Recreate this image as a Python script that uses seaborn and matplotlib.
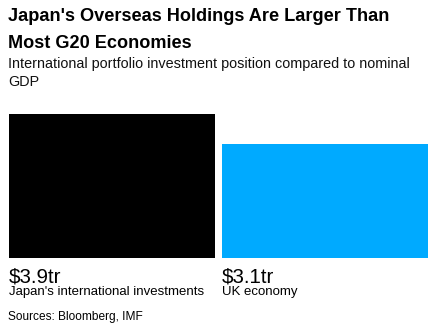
import matplotlib
matplotlib.use("Agg")
import matplotlib.pyplot as plt
import seaborn as sns
import pandas as pd
from matplotlib.transforms import blended_transform_factory

# Values in trillions of US dollars
categories = ["Japan's international investments", "UK economy"]
values_tr = [3.9, 3.1]
bar_colors = ["#000000", "#00AAFF"]

title_lines = ["Japan's Overseas Holdings Are Larger Than", "Most G20 Economies"]
subtitle_lines = ["International portfolio investment position compared to nominal", "GDP"]
source = "Sources: Bloomberg, IMF"

sns.set_theme(style="white")
plt.rcParams["font.family"] = ["Liberation Sans", "DejaVu Sans"]

W, H = 437, 334
fig = plt.figure(figsize=(W / 100, H / 100), dpi=100)
fig.patch.set_facecolor("white")


def fy(px):
    """Convert a pixel row (from the top) to figure fraction."""
    return 1 - px / H


# Bar area
ax = fig.add_axes([9 / W, fy(258), (428 - 9) / W, 144 / H])
df = pd.DataFrame({"item": categories, "value": values_tr})
bw = 0.967
sns.barplot(data=df, x="item", y="value", hue="item", palette=bar_colors,
            width=bw, legend=False, ax=ax, saturation=1, linewidth=0)
ax.set_xlim(-bw / 2, 1 + bw / 2)
ax.set_ylim(0, max(values_tr))
ax.axis("off")

# Headline and subtitle
fig.text(8 / W, fy(21), title_lines[0], fontsize=13.1, fontweight="bold",
         color="black", va="baseline", ha="left")
fig.text(8 / W, fy(48), title_lines[1], fontsize=13.1, fontweight="bold",
         color="black", va="baseline", ha="left")
fig.text(8 / W, fy(68), subtitle_lines[0], fontsize=10.35, color="#111111",
         va="baseline", ha="left")
fig.text(8 / W, fy(86), subtitle_lines[1], fontsize=10.35, color="#111111",
         va="baseline", ha="left")

# Value and name under each bar, aligned to the bar's left edge
tr = blended_transform_factory(ax.transData, fig.transFigure)
for i, (name, v) in enumerate(zip(categories, values_tr)):
    x0 = i - bw / 2
    ax.text(x0, fy(282.5), f"${v:g}tr", transform=tr, fontsize=14.8,
            color="black", va="baseline", ha="left", clip_on=False)
    ax.text(x0, fy(295), name, transform=tr, fontsize=9.5,
            color="black", va="baseline", ha="left", clip_on=False)

fig.text(8 / W, fy(320), source, fontsize=8.6, color="black",
         va="baseline", ha="left")

fig.savefig("out.png", dpi=100, facecolor="white")
